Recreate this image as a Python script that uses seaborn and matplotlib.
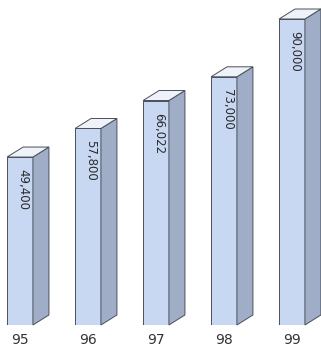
import matplotlib
matplotlib.use("Agg")
import matplotlib.pyplot as plt
from matplotlib.patches import Polygon
import seaborn as sns
import pandas as pd

# data
years = ["95", "96", "97", "98", "99"]
values = [49400, 57800, 66022, 73000, 90000]

df = pd.DataFrame({"year": years, "value": values})

front = "#c8d8f2"
side = "#9fadc6"
top = "#eef2f9"
edge = "#4a4f5a"

sns.set_style("white")
fig = plt.figure(figsize=(3.21, 3.48), dpi=100)
ax = fig.add_axes([0, 23 / 348, 1, 325 / 348])

sns.barplot(x="year", y="value", data=df, color=front, saturation=1,
            width=0.38, edgecolor=edge, linewidth=0.7, ax=ax)

ax.set_xlim(-20 / 68, 301 / 68)
ax.set_ylim(0, 325 / 0.0034)

# depth of the fake 3d box, in pixels -> data units
dx = 16 / 68
dy = 10 / 0.0034

for bar, v in zip(ax.patches, values):
    x = bar.get_x()
    w = bar.get_width()
    h = bar.get_height()
    ax.add_patch(Polygon([(x + w, 0), (x + w + dx, dy), (x + w + dx, h + dy), (x + w, h)],
                         closed=True, facecolor=side, edgecolor=edge, lw=0.7, clip_on=False))
    ax.add_patch(Polygon([(x, h), (x + dx, h + dy), (x + w + dx, h + dy), (x + w, h)],
                         closed=True, facecolor=top, edgecolor=edge, lw=0.7, clip_on=False))
    ax.annotate(f"{v:,}", (x + w / 2, h), xytext=(3, -12), textcoords="offset pixels",
                rotation=-90, ha="center", va="top", fontsize=8.5, color="#2a2a2a")

ax.set_xlabel("")
ax.set_ylabel("")
ax.set_yticks([])
ax.tick_params(axis="x", length=0, pad=5.5, labelsize=10, labelcolor="#333333")
sns.despine(ax=ax, left=True, bottom=True)

fig.savefig("out.png", dpi=100)
